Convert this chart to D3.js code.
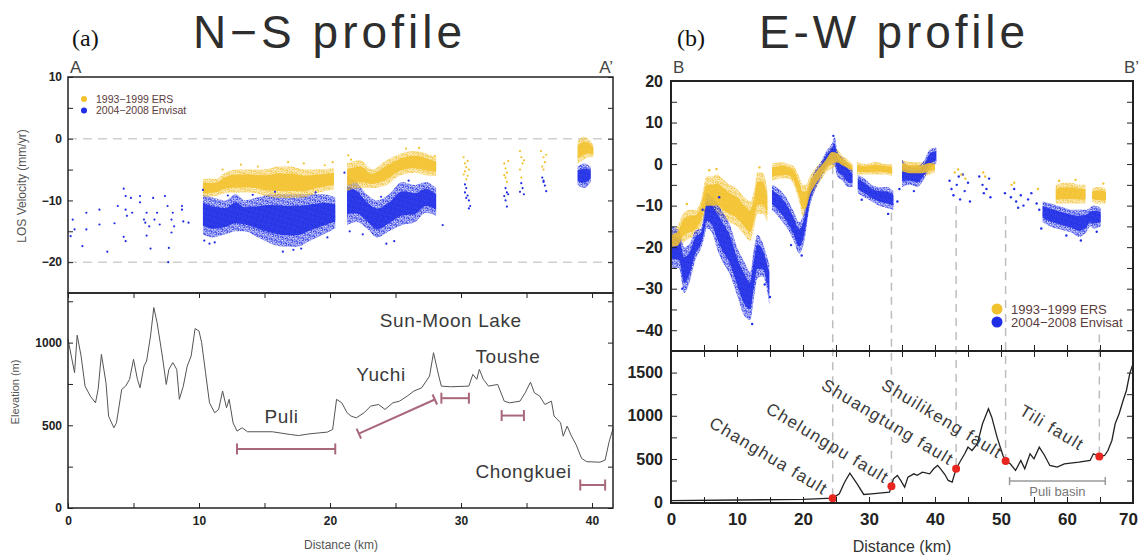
<!DOCTYPE html>
<html>
<head>
<meta charset="utf-8">
<script src="https://cdn.jsdelivr.net/npm/d3@7"></script>
<style>
body { margin: 0; background: #fff; }
svg { display: block; font-family: "Liberation Sans", Arial, sans-serif; }
</style>
</head>
<body>
<div id="chart"></div>
<script>
// ---------- N-S profile data ----------
// velocity clouds read as bands: [distance km, upper mm/yr, lower mm/yr]
const nsErsBands = [
  [[10.3,-6.5,-9.5],[11.3,-6.5,-9.3],[12,-5.5,-8.8],[13,-5,-8.7],[14,-5,-8.7],[15,-5,-9.2],[16,-4.5,-9.6],[17,-4.5,-9.6],[18,-5,-9.5],[19,-5,-8.8],[20.3,-4.8,-8.2]],
  [[21.3,-4,-8.5],[22.3,-3.5,-8],[23.2,-5,-8],[24.3,-3.5,-7.5],[25.3,-2.5,-6],[26.5,-2,-5.5],[27.5,-2.5,-6],[28.1,-3,-6]],
  [[38.9,-0.5,-4],[39.3,0.3,-3.5],[39.7,0,-3],[40.1,-1,-3]]
];
const nsEnvBands = [
  [[10.3,-9,-15.5],[11,-9.5,-16],[12,-10,-15.5],[12.8,-9,-15],[13.5,-10,-15],[14.5,-9.5,-16],[15.5,-9,-17],[16.5,-9,-17.5],[17.5,-9,-17.5],[18.5,-9,-16.5],[19.5,-9,-15.5],[20.4,-9.5,-14.5]],
  [[21.3,-6,-14],[22,-7,-13.5],[22.8,-9,-14.5],[23.6,-10,-16],[24.5,-9,-15],[25.5,-7,-14],[26.5,-7.5,-13.5],[27.3,-7,-12],[28.1,-8,-12.5]],
  [[38.9,-4.5,-7.5],[39.4,-4,-8],[39.9,-4.5,-7]]
];
// single scattered points [km, mm/yr]
const nsEnvPts = [
  [0.36,-13.1],[0.5,-14.7],[0.2,-15.8],[1.1,-17.4],[1.4,-12],[1.4,-14.7],[2.4,-11.5],[2.4,-13.9],[3,-18.3],[3.55,-13.7],
  [3.8,-10.9],[4.25,-8.1],[4.4,-9.3],[4.4,-11.5],[4.5,-12.5],[4.25,-15.9],[4.4,-16.6],[4.8,-9.6],[4.9,-12],[5.5,-9.3],
  [5.5,-10.3],[5.8,-13.1],[5.9,-13.6],[6,-12],[6.2,-14.2],[6.3,-17.8],[6,-15.7],[6.5,-9.6],[6.6,-13.1],[6.8,-12],
  [7,-13.9],[7.4,-9.3],[7.6,-10.9],[7.7,-17.7],[7.9,-15.2],[7.9,-13.1],[8,-12],[8.1,-14.2],[8.7,-10.9],[8.8,-13.4],
  [9.2,-13.6],[8.7,-11.5],[7.65,-20],
  [10.4,-16.5],[10.8,-17],[11.2,-16.8],[17.2,-18],[16.4,-18.3],[17.8,-17.8],[19.8,-16],[21.5,-15],[22.5,-15.5],[24.3,-17],
  [24.9,-16.6],[28.6,-14],[10.3,-8.3],[21.1,-5.5],[12.2,-9.2],[14.1,-9.1],[15.8,-8.6],[18.9,-8.7],[26,-6.8],[23.9,-9.4],
  [30.3,-7.4],[30.4,-8],[30.3,-8.7],[30.5,-9.2],[30.6,-10],[30.7,-10.9],[30.4,-9.6],[30.6,-11.3],
  [33.4,-8],[33.5,-8.7],[33.3,-9.3],[33.4,-10],[33.6,-9],[33.5,-11],
  [34.6,-7.2],[34.7,-8],[34.5,-8.6],[34.8,-9],[36.2,-6.3],[36.3,-7],[36.4,-7.6],[36.5,-8.5],[36.3,-6.8]
];
const nsErsPts = [
  [11.8,-5],[13.2,-4.2],[14.5,-4.5],[16.8,-3.8],[18,-4],[19.6,-4.3],[20.2,-3.8],[21.4,-2.7],[21.6,-3.4],[25.8,-1.6],[26.8,-1.5],[28,-2.8],
  [30.2,-3],[30.3,-4],[30.4,-4.6],[30.3,-5.3],[30.5,-6],[30.4,-6.6],[30.6,-5],[30.2,-5.8],[30.5,-3.6],
  [33.3,-4],[33.4,-4.8],[33.5,-5.5],[33.4,-6.3],[33.6,-3.6],[33.3,-5.9],[33.5,-7],
  [34.5,-2],[34.6,-3],[34.7,-4],[34.5,-5],[34.8,-3.5],[34.6,-6.3],
  [36.1,-2],[36.3,-3],[36.4,-3.8],[36.2,-4.5],[36.5,-2.6],[36.3,-5]
];
// topography [km, m]
const nsProfile = [
  [0,1020],[0.5,818],[0.7,1045],[1.0,919],[1.3,737],[1.7,677],[2.1,636],[2.3,717],[2.55,929],[2.9,757],[3.1,555],[3.5,485],
  [3.7,515],[4.1,717],[4.4,737],[4.7,778],[5.0,899],[5.3,778],[5.5,727],[5.8,858],[6.0,889],[6.3,1040],[6.55,1212],[6.8,1121],
  [7.2,919],[7.5,747],[7.7,838],[8.0,879],[8.3,838],[8.5,657],[8.8,737],[9.1,858],[9.4,919],[9.7,1085],[10.0,1070],[10.2,1000],
  [10.5,818],[10.8,636],[11.2,576],[11.5,596],[11.8,707],[12.1,606],[12.3,657],[12.6,515],[12.9,465],[13.3,485],[13.7,461],
  [15.6,461],[17.0,444],[17.6,438],[18.4,448],[19.8,459],[20.2,475],[20.5,657],[20.9,636],[21.3,576],[21.6,556],[22.0,545],
  [22.6,576],[23.1,616],[23.7,626],[24.2,596],[24.8,636],[25.3,646],[25.9,677],[26.4,707],[27.0,727],[27.6,798],[27.9,939],
  [28.3,798],[28.5,737],[29.2,733],[30.6,737],[30.9,808],[31.2,778],[31.4,838],[31.7,778],[32.1,737],[32.8,747],[33.3,646],
  [33.7,636],[34.5,646],[34.9,697],[35.3,761],[35.6,697],[36.0,677],[36.4,626],[36.9,646],[37.1,556],[37.6,515],[37.8,434],
  [38.1,495],[38.4,440],[38.8,380],[39.2,300],[39.6,280],[40.6,277],[41.0,290],[41.3,400],[41.6,480]
];
// basin extent bars [km, m]
const nsBarFrom = [[12.9,357],[22.2,450],[28.5,664],[33.1,559],[39.1,139]];
const nsBarTo   = [[20.4,357],[28.0,656],[30.6,664],[34.8,559],[41.0,139]];
const nsPlaces = ["Sun-Moon Lake","Yuchi","Toushe","Puli","Chongkuei"];
const nsPlaceKm = [23.8, 22.0, 31.1, 15.0, 31.1];
const nsPlaceElev = [1094, 768, 877, 514, 181];

// ---------- E-W profile data ----------
const ewErsBands = [
  [[0,-16,-21],[1,-15,-21],[1.8,-12,-19],[2.7,-11,-18],[3.7,-11,-17],[4.5,-9,-15],[5.4,-3,-12],[6.2,-3,-12],[7.0,-2.5,-12],[7.8,-3.5,-13],[8.9,-5,-14],[10.0,-6,-15],[11.1,-8,-17],[12.0,-9,-18.5],[12.5,-7,-16],[13.1,-2,-12],[13.9,-2,-12],[14.6,-6,-14]],
  [[15.3,0,-4],[16.7,0.5,-3.5],[17.8,0,-3.5],[18.6,-0.5,-5],[19.4,-3,-9],[20.0,-5,-12.5],[20.5,-5,-12],[21.0,-3,-9],[21.9,-1,-6],[22.7,0.5,-4],[23.5,2,-2],[24.4,4,-1],[25.2,3.5,-0.5],[26.0,2,-1],[26.8,1,-1.5],[27.5,0,-2]],
  [[28.2,0.5,-2.5],[29.5,0,-2.5],[31,0.5,-2.5],[32.5,0,-2.5],[33.5,0,-3]],
  [[35,1,-2.5],[36.5,0.5,-3],[38,0.5,-3],[39.2,1,-2.5],[40,0.5,-2]],
  [[58.3,-5,-9.5],[59.5,-4.5,-9.5],[60.7,-4.5,-9.5],[61.8,-5,-9.5],[62.8,-5,-9.5]],
  [[63.8,-6,-9],[64.5,-5.5,-9.5],[65.2,-5.5,-9.5],[65.9,-6,-9.5]]
];
const ewEnvBands = [
  [[0,-15,-25],[1.2,-16,-25],[2.0,-20,-31],[2.9,-19,-28],[3.7,-16,-23],[4.5,-15.5,-20.5],[5.0,-12,-18],[5.4,-7,-15.5],[6.2,-8,-16.5],[7.0,-9.5,-20.5],[7.8,-11.5,-23.5],[8.9,-14.5,-26.5],[10.0,-20,-31.5],[11.1,-23.5,-36.5],[12.0,-26,-37.5],[12.5,-21,-33],[13.1,-17,-27.5],[13.9,-19,-27],[14.5,-22,-30],[14.9,-24,-34]],
  [[15.3,-5,-11],[16.7,-6.5,-13.5],[17.8,-9,-16],[18.6,-11.5,-18.5],[19.4,-14,-21.5],[20.2,-11.5,-18.5],[21.0,-5,-10.5],[21.9,-1.5,-6],[22.7,0.5,-3.5],[23.5,3,-1],[24.4,5,0],[24.8,6.5,-0.5],[25.2,3,-3],[26.0,1.5,-4],[26.8,0,-5.5],[27.5,-1.5,-5.5]],
  [[28.3,-2.5,-7],[29.3,-3.5,-8],[30.4,-5,-9],[31.5,-5.5,-10],[32.6,-5.5,-10.5],[33.7,-6.5,-11]],
  [[35,1,-5.5],[36.2,-0.5,-5],[37.3,-0.5,-5.5],[38.4,1,-3.5],[39.2,3.5,-1],[40.2,4,0]],
  [[56.3,-9,-14],[57.5,-9.5,-15],[58.5,-10,-15.5],[59.6,-10.5,-16],[60.7,-11,-16.5],[61.8,-11,-17.5],[62.9,-11,-16.5],[63.5,-10.5,-15],[64,-10,-15.5],[65.1,-10.5,-15]]
];
const ewEnvPts = [
  [42.2,-4],[42.5,-6],[42.8,-7.5],[43.3,-5],[43.6,-3],[43.8,-8.5],[44.2,-2.5],[44.5,-6.5],[45,-4.5],[45.3,-9],
  [46.7,-3],[47.2,-5],[47.4,-7],[47.8,-6],[48.2,-3.5],[48.4,-8],[50.6,-7],[51.5,-8],[52,-6],[52.3,-9],[52.6,-10.5],
  [53,-7.5],[53.4,-10],[54.1,-8.5],[54.6,-7],[55.4,-9.5],[55.8,-11],[34.3,-9],[34.6,-6],[15,-32],[1.7,-30],[24.6,6.8],
  [4.8,-11],[7.3,-8],[12.3,-38.5],[14.2,-29],[18.2,-19.5],[19.8,-22],[28.9,-8.6],[32.9,-12],[36.8,-6.5],[56.1,-15.5],
  [59.9,-17.2],[62.1,-18.4],[64.5,-16.3]
];
const ewErsPts = [[43,-2],[43.5,-1.3],[44,-2.5],[44.6,-3.5],[47.3,-2],[47.6,-3],[51.6,-5],[52,-4.5],[55.6,-6],
  [5.8,-1.5],[6.9,-1.2],[13.4,-0.8],[2.4,-9.6],[58.8,-4],[61.3,-3.8],[65.5,-4.7]];
const ewProfile = [
  [0,18],[10,25],[20,32],[24.5,46],[25.5,96],[26.3,230],[27.1,335],[28.2,212],[29.2,89],[30.4,96],[33.1,116],[33.4,185],
  [33.7,270],[34.3,309],[34.8,251],[35.4,174],[35.9,290],[36.8,328],[37.3,310],[38.1,347],[39.2,328],[39.8,386],[40.4,425],
  [40.9,380],[41.5,320],[42,251],[42.6,232],[43.2,386],[43.9,482],[44.5,560],[45,637],[45.6,598],[46.4,675],[47.2,907],
  [48.1,1081],[48.6,984],[49.4,753],[50.3,540],[50.7,475],[51.4,444],[52.2,367],[53,482],[53.6,386],[54.4,560],[55,502],
  [55.8,637],[56.6,540],[57.4,425],[58.5,405],[59.6,444],[61.8,463],[63.5,482],[64,560],[64.9,529],[65.7,540],[66.2,598],
  [66.8,714],[67.3,907],[67.9,1023],[68.5,1177],[69,1293],[69.5,1486],[70,1602]
];
const faults = ["Changhua fault","Chelungpu fault","Shuangtung fault","Shuilikeng fault","Tili fault"];
const faultKm = [24.5, 33.4, 43.2, 50.7, 64.9];
const faultElev = [46, 185, 386, 475, 529];
const faultVelTop = [-0.5, -11.7, -10.1, -12.5, -41];
const faultLabelKm = [5.6, 14.2, 22.6, 31.7, 52.6];
const faultLabelElev = [880, 1045, 1320, 1320, 1020];
const puliBasin = [51.3, 65.8];
const puliBasinElev = 245;

const legendNames = ["1993\u22121999 ERS", "2004\u22122008 Envisat"];
const ersColor = "#f2c12e", envColor = "#1f2ee6";

// ---------- svg ----------
const svg = d3.select("#chart").append("svg").attr("width", 1139).attr("height", 560);
const defs = svg.append("defs");

// speckle texture used for the fringe of the dense point clouds
function dotPattern(id, color) {
  const p = defs.append("pattern").attr("id", id).attr("patternUnits", "userSpaceOnUse")
    .attr("width", 5).attr("height", 5).attr("patternTransform", "rotate(17)");
  [[0.6,0.9],[2.7,0.3],[4.3,1.6],[1.8,2.4],[3.6,3.2],[0.7,4.1],[2.6,4.5],[4.5,4.3]].forEach(c =>
    p.append("circle").attr("cx", c[0]).attr("cy", c[1]).attr("r", 0.8).attr("fill", color));
}
dotPattern("dotErs", ersColor);
dotPattern("dotEnv", envColor);

function clip(id, x, y) {
  defs.append("clipPath").attr("id", id).append("rect")
    .attr("x", x.range()[0]).attr("y", y.range()[1])
    .attr("width", x.range()[1] - x.range()[0]).attr("height", y.range()[0] - y.range()[1]);
}

// bands: dotted fringe + solid core
function drawBands(g, bands, x, y, color, pat, layer) {
  bands.forEach(b => {
    if (layer !== "core") {
      const outer = d3.area().curve(d3.curveMonotoneX)
        .x(d => x(d[0])).y0(d => y(d[2])).y1(d => y(d[1]));
      g.append("path").datum(b).attr("d", outer).attr("fill", `url(#${pat})`);
    }
    if (layer !== "outer") {
      const core = d3.area().curve(d3.curveMonotoneX)
        .x(d => x(d[0]))
        .y0(d => y(d[2] + (d[1] - d[2]) * 0.22))
        .y1(d => y(d[1] - (d[1] - d[2]) * 0.22));
      g.append("path").datum(b).attr("d", core).attr("fill", color).attr("opacity", 0.88);
    }
  });
}

function drawPts(g, pts, x, y, color, r) {
  g.selectAll(null).data(pts).enter().append("circle")
    .attr("cx", d => x(d[0])).attr("cy", d => y(d[1])).attr("r", r).attr("fill", color);
}

// frame + inward ticks on four sides
function frame(x, y, o) {
  const g = svg.append("g");
  const x0 = x.range()[0], x1 = x.range()[1], y0 = y.range()[0], y1 = y.range()[1];
  const style = a => { a.select(".domain").remove(); a.selectAll("line").attr("stroke", "#222"); };
  const fmtY = v => o.yLab.includes(v) ? d3.format("")(v) : "";
  const fmtX = v => (o.xLab || []).includes(v) ? d3.format("")(v) : "";
  g.append("g").attr("transform", `translate(${x0},0)`)
    .call(d3.axisLeft(y).tickValues(o.yTicks).tickSize(-o.ts).tickPadding(o.yPad).tickFormat(fmtY))
    .call(style).selectAll("text").attr("font-size", o.fs).attr("font-weight", "bold")
    .attr("font-family", "Liberation Sans, Arial, sans-serif").attr("fill", "#222");
  g.append("g").attr("transform", `translate(${x1},0)`)
    .call(d3.axisRight(y).tickValues(o.yTicks).tickSize(-o.ts).tickFormat("")).call(style);
  if (o.top) g.append("g").attr("transform", `translate(0,${y1})`)
    .call(d3.axisTop(x).tickValues(o.xTicks).tickSize(-o.ts).tickFormat("")).call(style);
  if (o.bottom) {
    const ax = g.append("g").attr("transform", `translate(0,${y0})`)
      .call(d3.axisBottom(x).tickValues(o.xTicks).tickSize(-o.ts).tickPadding(o.xPad).tickFormat(fmtX))
      .call(style);
    ax.selectAll("text").attr("font-size", o.xfs).attr("font-weight", "bold")
      .attr("font-family", "Liberation Sans, Arial, sans-serif").attr("fill", "#222");
    if (o.lastShift) ax.selectAll("text").filter(d => d === x.domain()[1]).attr("dx", o.lastShift);
  }
  g.append("rect").attr("x", x0).attr("y", y1).attr("width", x1 - x0).attr("height", y0 - y1)
    .attr("fill", "none").attr("stroke", "#222").attr("stroke-width", o.sw);
}

const textStyle = (t, size, fill) => t.attr("font-size", size).attr("fill", fill);

// ================= (a) N-S =================
const nsX = d3.scaleLinear().domain([0, 41.6]).range([68, 613]);
const nsY1 = d3.scaleLinear().domain([-25, 10]).range([293, 77]);
const nsY2 = d3.scaleLinear().domain([0, 1300]).range([508, 293]);
clip("clipNs1", nsX, nsY1);

const gNs1 = svg.append("g").attr("clip-path", "url(#clipNs1)");
[0, -20].forEach(v => gNs1.append("line").attr("x1", nsX(0)).attr("x2", nsX(41.6))
  .attr("y1", nsY1(v)).attr("y2", nsY1(v)).attr("stroke", "#cfcfcf")
  .attr("stroke-width", 1.5).attr("stroke-dasharray", "9,6"));
drawBands(gNs1, nsEnvBands, nsX, nsY1, envColor, "dotEnv", "all");
drawBands(gNs1, nsErsBands, nsX, nsY1, ersColor, "dotErs", "all");
drawPts(gNs1, nsEnvPts, nsX, nsY1, envColor, 1.1);
drawPts(gNs1, nsErsPts, nsX, nsY1, ersColor, 1.1);

frame(nsX, nsY1, { yTicks: d3.range(-20, 11, 5), yLab: [10, 0, -10, -20], ts: 5, yPad: 6, fs: 12, sw: 1.5 });

const gNs2 = svg.append("g");
gNs2.append("path").datum(nsProfile)
  .attr("d", d3.line().x(d => nsX(d[0])).y(d => nsY2(d[1])))
  .attr("fill", "none").attr("stroke", "#555").attr("stroke-width", 1);
nsBarFrom.forEach((a, i) => {
  const b = nsBarTo[i];
  const p1 = [nsX(a[0]), nsY2(a[1])], p2 = [nsX(b[0]), nsY2(b[1])];
  const ang = Math.atan2(p2[1] - p1[1], p2[0] - p1[0]);
  const nx = -Math.sin(ang) * 5.5, ny = Math.cos(ang) * 5.5;
  const c = "#a9677a";
  gNs2.append("line").attr("x1", p1[0]).attr("y1", p1[1]).attr("x2", p2[0]).attr("y2", p2[1])
    .attr("stroke", c).attr("stroke-width", 2);
  [p1, p2].forEach(p => gNs2.append("line").attr("x1", p[0] - nx).attr("y1", p[1] - ny)
    .attr("x2", p[0] + nx).attr("y2", p[1] + ny).attr("stroke", c).attr("stroke-width", 2));
});
nsPlaces.forEach((t, i) => textStyle(gNs2.append("text")
  .attr("x", nsX(nsPlaceKm[i])).attr("y", nsY2(nsPlaceElev[i])).attr("letter-spacing", 0.6)
  .text(t), 19, "#3a3a3a"));

frame(nsX, nsY2, { yTicks: d3.range(0, 1300, 250), yLab: [0, 500, 1000], ts: 5, yPad: 6, fs: 12,
  xTicks: d3.range(0, 41.6, 5), xLab: [0, 10, 20, 30, 40], top: true, bottom: true, xPad: 8, xfs: 12, sw: 1.5 });

// labels and legend (a)
const lab = svg.append("g");
textStyle(lab.append("text").attr("x", 193).attr("y", 48).attr("textLength", 269)
  .attr("lengthAdjust", "spacing").text("N\u2212S profile"), 46, "#2e2e2e");
textStyle(lab.append("text").attr("x", 72).attr("y", 46).attr("font-family", "Liberation Serif, Times New Roman, serif")
  .text("(a)"), 24, "#111");
textStyle(lab.append("text").attr("x", 70).attr("y", 73).text("A"), 17, "#444");
textStyle(lab.append("text").attr("x", 613).attr("y", 73).attr("text-anchor", "end").text("A\u2019"), 17, "#444");
textStyle(lab.append("text").attr("transform", "translate(26,186) rotate(-90)").attr("text-anchor", "middle")
  .text("LOS Velocity (mm/yr)"), 12, "#555");
textStyle(lab.append("text").attr("transform", "translate(19,392) rotate(-90)").attr("text-anchor", "middle")
  .text("Elevation (m)"), 11, "#555");
textStyle(lab.append("text").attr("x", 341).attr("y", 549).attr("text-anchor", "middle")
  .text("Distance (km)"), 12, "#555");
[ersColor, envColor].forEach((c, i) => {
  lab.append("circle").attr("cx", 84).attr("cy", 99 + i * 11.5).attr("r", 3).attr("fill", c);
  textStyle(lab.append("text").attr("x", 96).attr("y", 102.5 + i * 11.5).text(legendNames[i]), 10.5, "#5a3c3c");
});

// ================= (b) E-W =================
const ewX = d3.scaleLinear().domain([0, 70]).range([671, 1133]);
const ewY1 = d3.scaleLinear().domain([-45, 20]).range([351, 81]);
const ewY2 = d3.scaleLinear().domain([-10, 1750]).range([503, 351]);
clip("clipEw1", ewX, ewY1);

// dashed fault lines across both panels
const gDash = svg.append("g");
faultKm.forEach((k, i) => gDash.append("line")
  .attr("x1", ewX(k)).attr("x2", ewX(k)).attr("y1", ewY1(faultVelTop[i])).attr("y2", ewY2(faultElev[i]))
  .attr("stroke", "#bdbdbd").attr("stroke-width", 1.5).attr("stroke-dasharray", "8,6"));

const gEw1 = svg.append("g").attr("clip-path", "url(#clipEw1)");
drawBands(gEw1, ewErsBands, ewX, ewY1, ersColor, "dotErs", "outer");
drawBands(gEw1, ewEnvBands, ewX, ewY1, envColor, "dotEnv", "all");
drawBands(gEw1, ewErsBands, ewX, ewY1, ersColor, "dotErs", "core");
drawPts(gEw1, ewEnvPts, ewX, ewY1, envColor, 1.2);
drawPts(gEw1, ewErsPts, ewX, ewY1, ersColor, 1.2);

frame(ewX, ewY1, { yTicks: d3.range(-45, 21, 5), yLab: [20, 10, 0, -10, -20, -30, -40], ts: 6, yPad: 8, fs: 16,
  xTicks: d3.range(0, 71, 5), bottom: true, xPad: 0, xfs: 0, sw: 2 });

const gEw2 = svg.append("g");
gEw2.append("path").datum(ewProfile)
  .attr("d", d3.line().x(d => ewX(d[0])).y(d => ewY2(d[1])))
  .attr("fill", "none").attr("stroke", "#222").attr("stroke-width", 1.3);
// Puli basin bar
const pbY = ewY2(puliBasinElev);
gEw2.append("line").attr("x1", ewX(puliBasin[0])).attr("x2", ewX(puliBasin[1])).attr("y1", pbY).attr("y2", pbY)
  .attr("stroke", "#9a9a9a").attr("stroke-width", 1.5);
puliBasin.forEach(k => gEw2.append("line").attr("x1", ewX(k)).attr("x2", ewX(k))
  .attr("y1", pbY - 4).attr("y2", pbY + 4).attr("stroke", "#9a9a9a").attr("stroke-width", 1.5));
textStyle(gEw2.append("text").attr("x", ewX((puliBasin[0] + puliBasin[1]) / 2)).attr("y", pbY + 15)
  .attr("text-anchor", "middle").text("Puli basin"), 13, "#777");
gEw2.selectAll(null).data(faultKm).enter().append("circle")
  .attr("cx", d => ewX(d)).attr("cy", (d, i) => ewY2(faultElev[i])).attr("r", 4).attr("fill", "#e8261f");
faults.forEach((t, i) => textStyle(gEw2.append("text")
  .attr("transform", `translate(${ewX(faultLabelKm[i])},${ewY2(faultLabelElev[i])}) rotate(31)`)
  .attr("letter-spacing", 1.4).text(t), 17, "#3a3a3a"));

frame(ewX, ewY2, { yTicks: d3.range(0, 1751, 250), yLab: [0, 500, 1000, 1500], ts: 6, yPad: 8, fs: 16,
  xTicks: d3.range(0, 71, 5), xLab: [0, 10, 20, 30, 40, 50, 60, 70], top: true, bottom: true, xPad: 10, xfs: 17, sw: 2,
  lastShift: -5 });

textStyle(lab.append("text").attr("x", 759).attr("y", 48).attr("textLength", 266)
  .attr("lengthAdjust", "spacing").text("E-W profile"), 46, "#2e2e2e");
textStyle(lab.append("text").attr("x", 677).attr("y", 46).attr("font-family", "Liberation Serif, Times New Roman, serif")
  .text("(b)"), 24, "#111");
textStyle(lab.append("text").attr("x", 673).attr("y", 73).text("B"), 17, "#444");
textStyle(lab.append("text").attr("x", 1139).attr("y", 73).attr("text-anchor", "end").text("B\u2019"), 17, "#444");
textStyle(lab.append("text").attr("x", 902).attr("y", 552).attr("text-anchor", "middle")
  .text("Distance (km)"), 16, "#333");
[ersColor, envColor].forEach((c, i) => {
  lab.append("circle").attr("cx", 997).attr("cy", 309 + i * 13).attr("r", 5.5).attr("fill", c);
  textStyle(lab.append("text").attr("x", 1011).attr("y", 313.5 + i * 13).text(legendNames[i]), 13, "#5a3c3c");
});
</script>
</body>
</html>
